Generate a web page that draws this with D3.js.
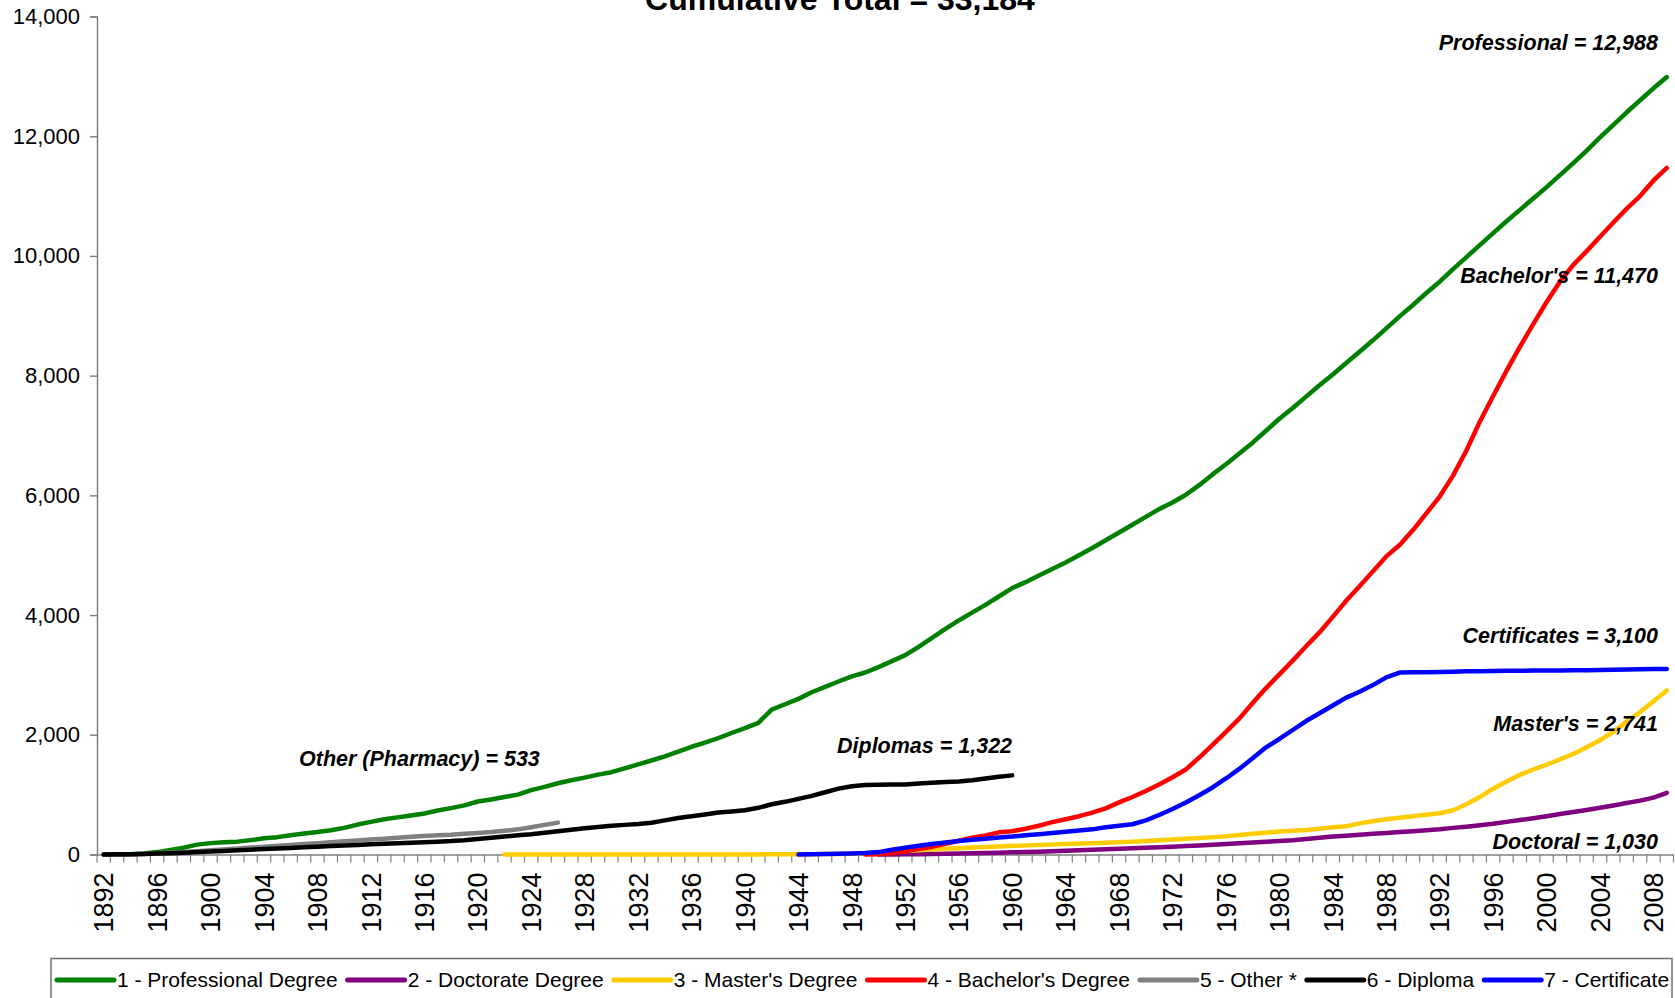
<!DOCTYPE html>
<html>
<head>
<meta charset="utf-8">
<script src="https://cdn.jsdelivr.net/npm/d3@7"></script>
<style>
  body { margin: 0; background: #fff; }
  svg { display: block; font-family: "Liberation Sans", Arial, sans-serif; }
</style>
</head>
<body>
<svg id="chart" width="1675" height="998"></svg>
<script>
// category axis: one slot per year
var years = d3.range(1892, 2010)
var yTicks = [0, 2000, 4000, 6000, 8000, 10000, 12000, 14000]
var titleText = "Cumulative Total = 33,184"

// cumulative counts, one value per year from each start year
var professionalStart = 1892
var professional = [0, 0, 5, 15, 40, 75, 115, 165, 190, 205,
  215, 240, 270, 290, 320, 350, 375, 405, 445, 500,
  545, 590, 620, 650, 685, 735, 775, 820, 885, 920,
  960, 1000, 1075, 1130, 1190, 1240, 1285, 1335, 1375, 1440,
  1505, 1570, 1640, 1720, 1800, 1870, 1945, 2030, 2110, 2200,
  2420, 2510, 2600, 2710, 2800, 2890, 2975, 3040, 3130, 3230,
  3330, 3470, 3620, 3770, 3910, 4040, 4170, 4310, 4450, 4550,
  4660, 4770, 4880, 5000, 5120, 5250, 5380, 5510, 5640, 5770,
  5880, 6010, 6170, 6350, 6520, 6700, 6880, 7080, 7280, 7460,
  7650, 7840, 8020, 8210, 8400, 8590, 8790, 8990, 9180, 9380,
  9570, 9780, 9980, 10180, 10380, 10580, 10770, 10960, 11150, 11350,
  11550, 11760, 11980, 12190, 12400, 12600, 12800, 12988]

var doctorateStart = 1950
var doctorate = [0, 2, 4, 6, 9, 12, 16, 20, 25, 30,
  36, 42, 48, 55, 62, 70, 78, 86, 95, 104,
  113, 122, 130, 140, 150, 162, 175, 188, 200, 212,
  225, 240, 260, 280, 300, 315, 330, 345, 360, 375,
  390, 405, 420, 445, 465, 490, 515, 545, 575, 605,
  640, 675, 710, 745, 780, 820, 860, 900, 950, 1030]

var mastersStart = 1922
var masters = [0, 0, 0, 0, 0, 0, 0, 0, 0, 0,
  0, 0, 0, 0, 0, 0, 0, 0, 0, 2,
  3, 4, 5, 6, 8, 10, 12, 15, 25, 40,
  60, 72, 85, 95, 105, 115, 125, 135, 145, 152,
  160, 168, 175, 182, 190, 198, 205, 215, 225, 237,
  250, 262, 275, 290, 305, 325, 345, 365, 385, 398,
  410, 430, 455, 470, 520, 555, 590, 615, 640, 665,
  690, 740, 840, 960, 1100, 1220, 1330, 1420, 1500, 1590,
  1680, 1790, 1910, 2050, 2220, 2380, 2560, 2741]

var bachelorsStart = 1949
var bachelors = [0, 5, 25, 55, 90, 130, 180, 230, 280, 320,
  370, 390, 430, 480, 540, 590, 640, 700, 770, 870,
  960, 1060, 1170, 1290, 1420, 1620, 1830, 2050, 2270, 2530,
  2780, 3010, 3240, 3480, 3710, 3970, 4240, 4480, 4730, 4980,
  5170, 5420, 5700, 5980, 6330, 6750, 7230, 7660, 8080, 8480,
  8860, 9230, 9570, 9850, 10080, 10320, 10560, 10790, 11000, 11260,
  11470]

var otherStart = 1892
var other = [0, 2, 5, 10, 20, 30, 40, 55, 70, 85,
  100, 115, 130, 145, 160, 175, 190, 205, 220, 235,
  250, 265, 280, 295, 310, 320, 330, 345, 360, 375,
  395, 420, 455, 495, 533]

var diplomaStart = 1892
var diploma = [0, 3, 6, 10, 15, 22, 30, 40, 50, 60,
  70, 80, 90, 100, 110, 120, 130, 140, 150, 160,
  170, 178, 186, 195, 205, 215, 225, 240, 260, 280,
  300, 320, 340, 365, 390, 415, 440, 460, 480, 495,
  510, 530, 570, 610, 640, 670, 700, 720, 740, 780,
  840, 880, 930, 980, 1040, 1100, 1140, 1160, 1165, 1168,
  1170, 1185, 1200, 1210, 1220, 1240, 1270, 1300, 1322]

var certificateStart = 1944
var certificate = [0, 3, 8, 12, 18, 25, 40, 80, 115, 145,
  175, 200, 225, 245, 265, 285, 300, 320, 340, 360,
  380, 400, 420, 455, 480, 505, 570, 660, 760, 870,
  990, 1120, 1270, 1430, 1610, 1790, 1930, 2080, 2230, 2360,
  2490, 2620, 2720, 2830, 2960, 3040, 3045, 3045, 3050, 3055,
  3060, 3062, 3065, 3068, 3070, 3072, 3074, 3076, 3078, 3080,
  3082, 3085, 3090, 3095, 3098, 3100]

var seriesNames = ["1 - Professional Degree", "2 - Doctorate Degree", "3 - Master's Degree",
  "4 - Bachelor's Degree", "5 - Other *", "6 - Diploma", "7 - Certificate"]
var seriesColors = ["#008000", "#800080", "#FFCC00", "#FF0000", "#808080", "#000000", "#0000FF"]

var series = [
  { start: professionalStart, values: professional },
  { start: doctorateStart, values: doctorate },
  { start: mastersStart, values: masters },
  { start: bachelorsStart, values: bachelors },
  { start: otherStart, values: other },
  { start: diplomaStart, values: diploma },
  { start: certificateStart, values: certificate }
].map(function(s, i) {
  return {
    name: seriesNames[i],
    color: seriesColors[i],
    points: s.values.map(function(v, j) { return { year: s.start + j, value: v } })
  }
})

var fmt = d3.format(",")
function last(arr) { return arr[arr.length - 1] }

var svg = d3.select("#chart")
var plotLeft = 97, plotRight = 1673.5, plotTop = 16.5, plotBottom = 854.5

var x = d3.scaleBand()
    .domain(years)
    .range([plotLeft, plotRight])
    .paddingInner(0).paddingOuter(0)

var y = d3.scaleLinear()
    .domain([0, 14000])
    .range([plotBottom, plotTop])

// title (sits partly above the top edge, as in the original)
svg.append("text")
  .attr("x", 840)
  .attr("y", 10)
  .attr("text-anchor", "middle")
  .attr("font-size", "32px")
  .attr("font-weight", "bold")
  .attr("fill", "#000")
  .text(titleText)

// y axis
var yAxis = svg.append("g")
  .attr("transform", "translate(" + plotLeft + ",0)")
  .call(d3.axisLeft(y).tickValues(yTicks).tickSize(7).tickPadding(10).tickFormat(fmt))
yAxis.select(".domain").attr("stroke", "#808080").attr("stroke-width", 1.5)
yAxis.selectAll(".tick line").attr("stroke", "#808080").attr("stroke-width", 1.5)
yAxis.selectAll(".tick text")
  .attr("font-family", "'Liberation Sans', Arial, sans-serif")
  .attr("font-size", "22px")
  .attr("fill", "#000")

// x axis: tick marks between categories, labels every 4 years
var xAxis = svg.append("g")
  .attr("transform", "translate(0," + plotBottom + ")")
  .call(d3.axisBottom(x)
    .tickValues(years.filter(function(d) { return (d - 1892) % 4 === 0 }))
    .tickSize(0))
xAxis.select(".domain").attr("stroke", "#808080").attr("stroke-width", 1.5)
xAxis.selectAll(".tick text")
  .attr("font-family", "'Liberation Sans', Arial, sans-serif")
  .attr("font-size", "27px")
  .attr("fill", "#000")
  .attr("text-anchor", "end")
  .attr("transform", "rotate(-90)")
  .attr("x", -18)
  .attr("y", 0)
  .attr("dy", "0.36em")

xAxis.selectAll(".cat-tick")
  .data(years.concat([2010]))
  .enter().append("line")
  .attr("class", "cat-tick")
  .attr("x1", function(d) { return d === 2010 ? plotRight : x(d) })
  .attr("x2", function(d) { return d === 2010 ? plotRight : x(d) })
  .attr("y1", 0)
  .attr("y2", 8)
  .attr("stroke", "#808080")
  .attr("stroke-width", 1.2)

// series lines, later series drawn on top
var line = d3.line()
    .x(function(d) { return x(d.year) + x.bandwidth() / 2 })
    .y(function(d) { return y(d.value) })

svg.append("g").selectAll("path")
  .data(series)
  .enter().append("path")
  .attr("d", function(d) { return line(d.points) })
  .attr("fill", "none")
  .attr("stroke", function(d) { return d.color })
  .attr("stroke-width", 4.5)
  .attr("stroke-linejoin", "round")
  .attr("stroke-linecap", "round")

// end-value annotations
var notes = [
  { text: "Professional = " + fmt(last(professional)), x: 1658, y: 50, anchor: "end" },
  { text: "Bachelor's = " + fmt(last(bachelors)), x: 1658, y: 283, anchor: "end" },
  { text: "Certificates = " + fmt(last(certificate)), x: 1658, y: 643, anchor: "end" },
  { text: "Master's = " + fmt(last(masters)), x: 1658, y: 731, anchor: "end" },
  { text: "Doctoral = " + fmt(last(doctorate)), x: 1658, y: 849, anchor: "end" },
  { text: "Other (Pharmacy) = " + fmt(last(other)), x: 299, y: 766, anchor: "start" },
  { text: "Diplomas = " + fmt(last(diploma)), x: 837, y: 753, anchor: "start" }
]
svg.append("g").selectAll("text")
  .data(notes)
  .enter().append("text")
  .attr("x", function(d) { return d.x })
  .attr("y", function(d) { return d.y })
  .attr("text-anchor", function(d) { return d.anchor })
  .attr("font-size", "21.5px")
  .attr("font-weight", "bold")
  .attr("font-style", "italic")
  .attr("fill", "#000")
  .text(function(d) { return d.text })

// legend box (bottom cut off by the frame)
var legend = svg.append("g")
legend.append("rect")
  .attr("x", 51)
  .attr("y", 958.5)
  .attr("width", 1621)
  .attr("height", 80)
  .attr("fill", "#fff")
  .attr("stroke", "#707070")
  .attr("stroke-width", 1.5)

var lx = 57
series.forEach(function(s) {
  legend.append("line")
    .attr("x1", lx).attr("x2", lx + 57)
    .attr("y1", 980).attr("y2", 980)
    .attr("stroke", s.color)
    .attr("stroke-width", 5)
    .attr("stroke-linecap", "round")
  var t = legend.append("text")
    .attr("x", lx + 60)
    .attr("y", 987)
    .attr("font-size", "21px")
    .attr("fill", "#000")
    .text(s.name)
  lx = lx + 60 + t.node().getComputedTextLength() + 10
})
</script>
</body>
</html>
